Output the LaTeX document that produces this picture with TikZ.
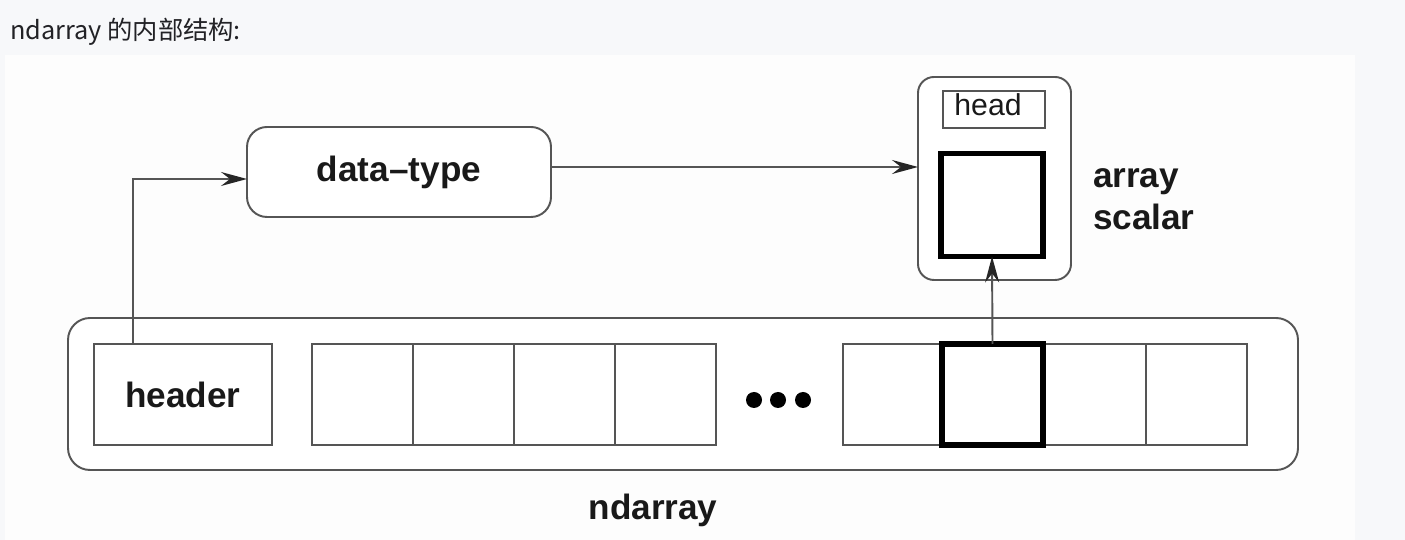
\documentclass[tikz,border=0pt]{standalone}
\usepackage{fontspec}
\setmainfont{Liberation Sans}
\newfontfamily\cjk{Noto Sans CJK SC}
\usepackage{tikz}
\usetikzlibrary{arrows.meta}
\definecolor{pagebg}{RGB}{247,248,250}
\definecolor{figbg}{RGB}{253,253,253}
\definecolor{linegray}{RGB}{85,85,85}
\definecolor{inkblack}{RGB}{25,25,25}

\begin{document}
\begin{tikzpicture}[x=0.1mm, y=-0.1mm,
	every node/.style={inner sep=0pt, outer sep=0pt, text=inkblack},
	box/.style={draw=linegray, line width=0.55pt, fill=white},
	roundbox/.style={box, rounded corners=2mm},
	thickbox/.style={draw=black, line width=1.7pt},
	label/.style={font=\fontsize{10pt}{12pt}\selectfont\bfseries},
	link/.style={draw=linegray, line width=0.55pt, -{Stealth[length=2.6mm, width=1.4mm, inset=0.9mm, color=black!85]}}]
	\useasboundingbox (0,0) rectangle (1405,540);
	\fill[pagebg] (0,0) rectangle (1405,540);
	\fill[figbg] (5,55) rectangle (1355,540);
	% Title
	\node[anchor=base west, font=\cjk\fontsize{7.2pt}{9pt}\selectfont, text={rgb,255:red,34;green,34;blue,38}] (title) at (10,40) {ndarray 的内部结构:};
	% Nodes
	\node[roundbox, minimum width=30.4mm, minimum height=9mm, label] (dtype) at (399,172) {data--type};
	\node[roundbox, rounded corners=1.6mm, minimum width=15.3mm, minimum height=20.3mm] (scalar) at (994.5,178.5) {};
	\node[box, minimum width=10.2mm, minimum height=3.7mm] (head) at (994,109.5) {};
	\node[font=\fontsize{8.6pt}{10pt}\selectfont] (headlbl) at (988,105) {head};
	\node[thickbox, minimum width=10.2mm, minimum height=10.3mm] (elem) at (992,205) {};
	\node[label, anchor=west, align=left] (scalarlbl) at (1093,199) {array\\scalar};
	\node[roundbox, rounded corners=2.2mm, minimum width=123mm, minimum height=15.2mm] (nd) at (683,394) {};
	\node[box, minimum width=17.8mm, minimum height=10.1mm, label] (header) at (183,394.5) {header};
	\foreach \i in {0,...,3}
		\node[box, minimum width=10.1mm, minimum height=10.1mm] (cellA\i) at (362.5+101*\i,394.5) {};
	\foreach \i in {0,...,3}
		\node[box, minimum width=10.1mm, minimum height=10.1mm] (cellB\i) at (893.5+101*\i,394.5) {};
	\node[thickbox, minimum width=10.1mm, minimum height=10.1mm] (pick) at (992.5,394.5) {};
	\foreach \i/\x in {1/754,2/778,3/803}
		\fill[black] (\x,400) circle (0.8mm) coordinate (dot\i);
	\node[label] (ndlbl) at (653,510) {ndarray};
	% Edges
	\draw[link] (header.north -| 133,0) |- (dtype.west |- 0,179);
	\draw[link] (dtype.east |- 0,167) -- (scalar.west |- 0,167);
	\draw[link] (pick.north) -- (elem.south);
\end{tikzpicture}
\end{document}
